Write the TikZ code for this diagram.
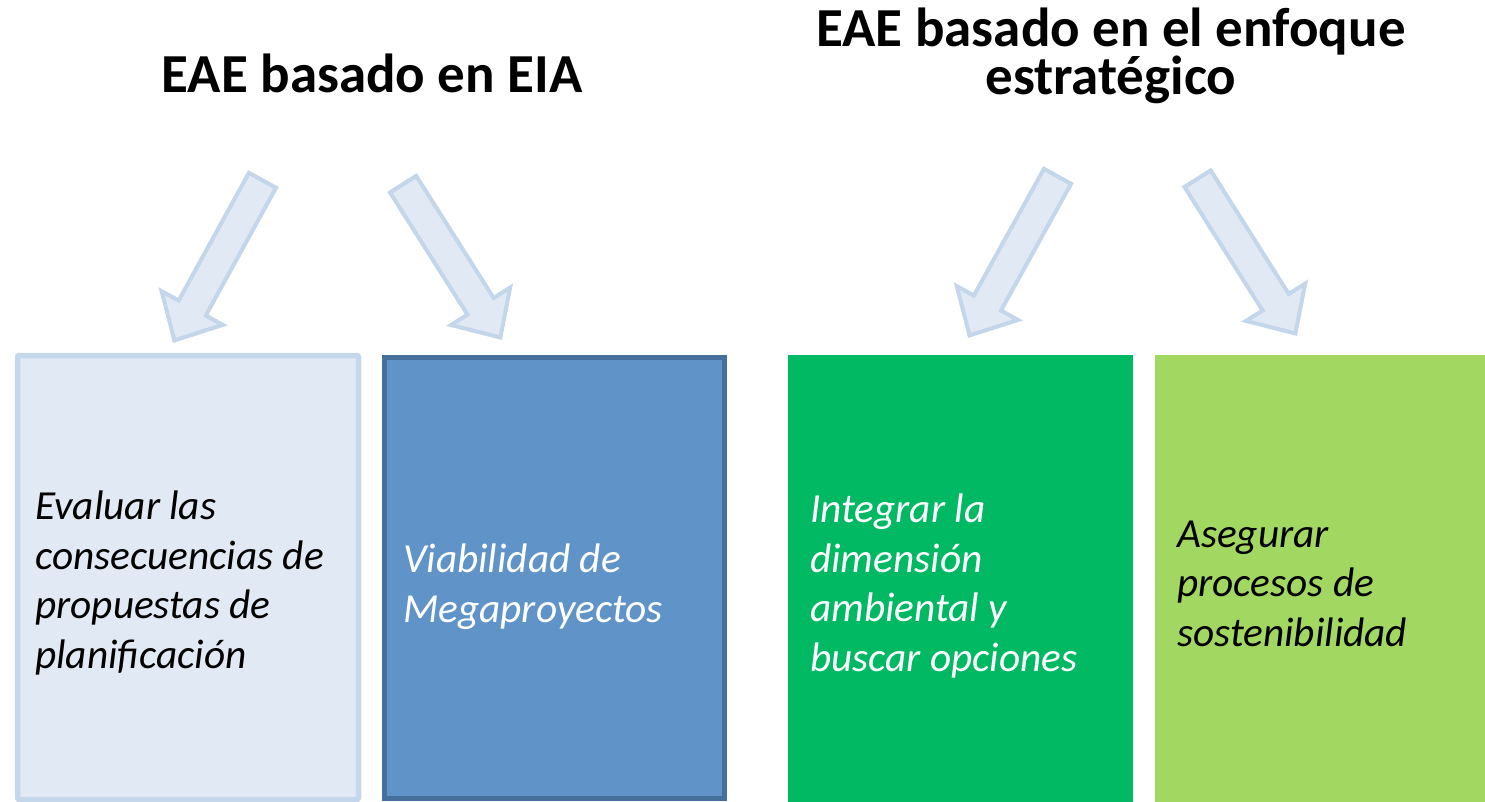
\documentclass[tikz,border=0pt]{standalone}
\usepackage{fontspec}
\setmainfont{Carlito}
\usetikzlibrary{calc}
\definecolor{arrfill}{HTML}{E0E9F4}
\definecolor{arrline}{HTML}{C4D6EA}
\definecolor{boxAfill}{HTML}{E1E9F4}
\definecolor{boxAline}{HTML}{C5D7EA}
\definecolor{boxBfill}{HTML}{6094C8}
\definecolor{boxBline}{HTML}{46709C}
\definecolor{boxCfill}{HTML}{00B962}
\definecolor{boxDfill}{HTML}{A2D762}
\newcommand\blockarrow[2]{%
  \coordinate (#1h) at ($(#2)!37pt!(#1)$);
  \draw[barrow] ($(#1)!15.5pt!90:(#2)$) -- ($(#1h)!15.5pt!90:(#2)$)
    -- ($(#1h)!35pt!90:(#2)$) -- (#2) -- ($(#1h)!35pt!-90:(#2)$)
    -- ($(#1h)!15.5pt!-90:(#2)$) -- ($(#1)!15.5pt!-90:(#2)$) -- cycle;}
\begin{document}
\begin{tikzpicture}[x=1pt,y=-1pt,
  title/.style={font=\fontsize{55}{45}\selectfont\bfseries, inner sep=0pt, align=center, anchor=base},
  body/.style={font=\fontsize{41.3}{49.5}\selectfont\itshape, inner sep=0pt, align=left, anchor=base west},
  panel/.style={anchor=north west, inner sep=0pt, outer sep=0pt},
  barrow/.style={fill=arrfill, draw=arrline, line width=4pt, line join=miter}]
\useasboundingbox (0,0) rectangle (1485,802);

% titles (base anchor = baseline of the last line)
\node[title] (t1) at (372,93) {EAE basado en EIA};
\node[title] (t2) at (1111,95) {EAE basado en el enfoque\\estratégico};

% panels
\node[panel, fill=boxAfill, draw=boxAline, line width=5.5pt, rounded corners=2pt,
      minimum width=341pt, minimum height=444pt] (b1) at (17.5,355.5) {};
\node[panel, fill=boxBfill, draw=boxBline, line width=5pt,
      minimum width=340pt, minimum height=441pt] (b2) at (384.5,357.5) {};
\node[panel, fill=boxCfill, minimum width=345pt, minimum height=447pt] (b3) at (788,355) {};
\node[panel, fill=boxDfill, minimum width=330pt, minimum height=447pt] (b4) at (1155,355) {};

% texts (base anchor = baseline of the last line)
\node[body] (x1) at (35,668) {Evaluar las\\consecuencias de\\propuestas de\\planificación};
\node[body, text=white] (x2) at (403,622) {Viabilidad de\\Megaproyectos};
\node[body, text=white] (x3) at (810,671) {Integrar la\\dimensión\\ambiental y\\buscar opciones};
\node[body] (x4) at (1177,646) {Asegurar\\procesos de\\sostenibilidad};

% block arrows
\coordinate (a1) at (262.5,180.3);  \coordinate (a1p) at (174.4,340.4);
\coordinate (a2) at (403.1,184.2);  \coordinate (a2p) at (500.4,337.5);
\coordinate (a3) at (1057.5,176.3); \coordinate (a3p) at (969.5,335.4);
\coordinate (a4) at (1197.6,178.7); \coordinate (a4p) at (1295.4,333.5);
\blockarrow{a1}{a1p}
\blockarrow{a2}{a2p}
\blockarrow{a3}{a3p}
\blockarrow{a4}{a4p}
\end{tikzpicture}
\end{document}
